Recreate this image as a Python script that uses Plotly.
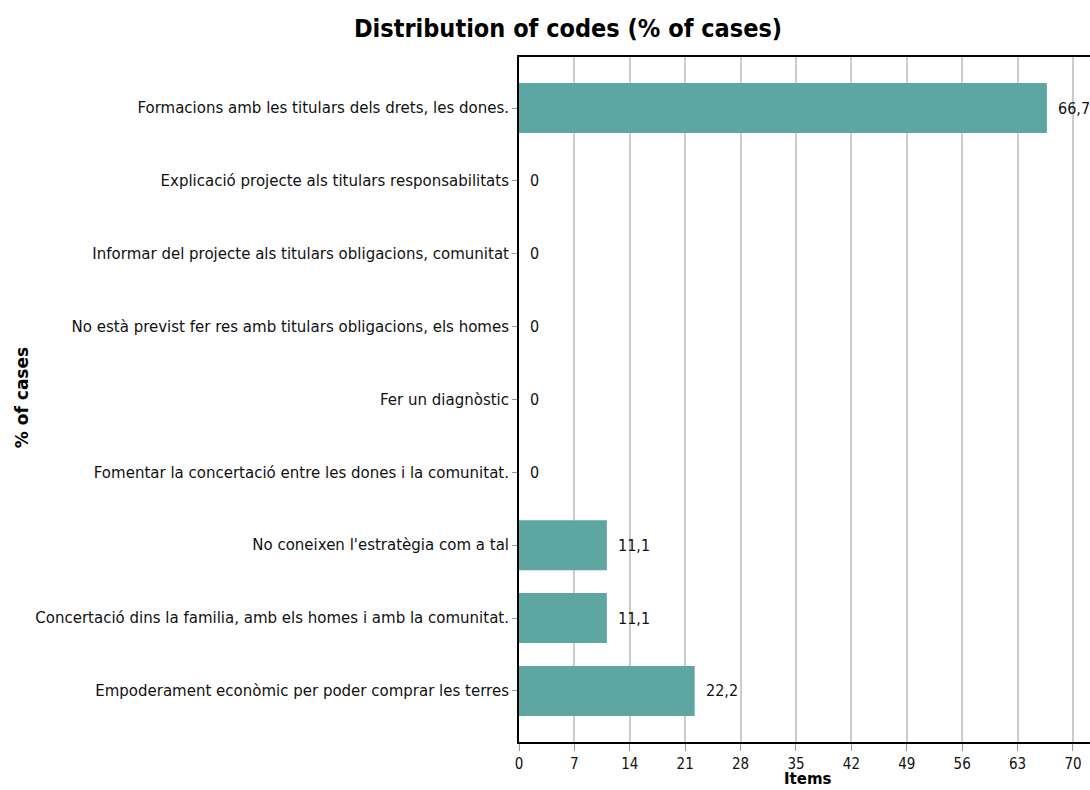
import plotly.graph_objects as go

categories = [
    "Formacions amb les titulars dels drets, les dones.",
    "Explicació projecte als titulars responsabilitats",
    "Informar del projecte als titulars obligacions, comunitat",
    "No està previst fer res amb titulars obligacions, els homes",
    "Fer un diagnòstic",
    "Fomentar la concertació entre les dones i la comunitat.",
    "No coneixen l'estratègia com a tal",
    "Concertació dins la familia, amb els homes i amb la comunitat.",
    "Empoderament econòmic per poder comprar les terres",
]
values = [66.7, 0, 0, 0, 0, 0, 11.1, 11.1, 22.2]
x_ticks = [0, 7, 14, 21, 28, 35, 42, 49, 56, 63, 70]

def fmt(v):
    return "0" if v == 0 else f"{v:.1f}".replace(".", ",")

FONT = "DejaVu Sans, sans-serif"
FONT_C = "DejaVu Sans Condensed, DejaVu Sans, sans-serif"
BAR = "#5ea6a2"

W, H = 1090, 790
L, T, B = 519, 57, 48
PH = H - T - B

fig = go.Figure()
fig.add_trace(go.Bar(
    y=categories, x=values, orientation="h",
    marker=dict(color=BAR, line=dict(width=0)),
    width=0.686, hoverinfo="x+y",
))

for c, v in zip(categories, values):
    fig.add_annotation(x=v, y=c, text=fmt(v), showarrow=False,
                       xanchor="left", xshift=9,
                       font=dict(family=FONT_C, size=16, color="#111"))

fig.add_annotation(
    text="<b>% of cases</b>", textangle=-90, showarrow=False,
    xref="paper", yref="paper", x=(22 - L) / (W - L), y=0.502,
    xanchor="center", yanchor="middle",
    font=dict(family=FONT, size=17, color="black"),
)
fig.add_annotation(
    text="<b>Items</b>", showarrow=False,
    xref="paper", yref="paper", x=(808 - L) / (W - L), y=-(790 - (T + PH)) / PH,
    xanchor="center", yanchor="bottom",
    font=dict(family=FONT, size=15, color="black"),
)

fig.update_layout(
    width=W, height=H,
    margin=dict(l=L, r=0, t=T, b=B),
    paper_bgcolor="white", plot_bgcolor="white",
    title=dict(text="<b>Distribution of codes (% of cases)</b>",
               x=568/W, xanchor="center", y=1 - 28/H, yanchor="middle",
               font=dict(family=FONT_C, size=25, color="black")),
    showlegend=False,
)
fig.update_xaxes(
    range=[0, 72.15], tickvals=x_ticks, ticktext=[str(t) for t in x_ticks],
    showgrid=True, gridcolor="#cccccc", gridwidth=2,
    showline=True, linecolor="black", linewidth=2, mirror=True,
    ticks="outside", ticklen=7, tickcolor="#999",
    tickfont=dict(family=FONT_C, size=15, color="#111"),
    zeroline=False,
)
fig.update_yaxes(
    categoryorder="array", categoryarray=categories, autorange=False,
    range=[8.70, -0.70],
    showline=True, linecolor="black", linewidth=2,
    ticks="outside", ticklen=5, tickcolor="#999",
    tickfont=dict(family=FONT, size=15, color="#111"),
    showgrid=False, zeroline=False,
)

fig.write_html(
    "out.html",
    config={"displayModeBar": False},
    post_script="document.body.style.margin='0';document.documentElement.style.overflow='hidden';",
)
